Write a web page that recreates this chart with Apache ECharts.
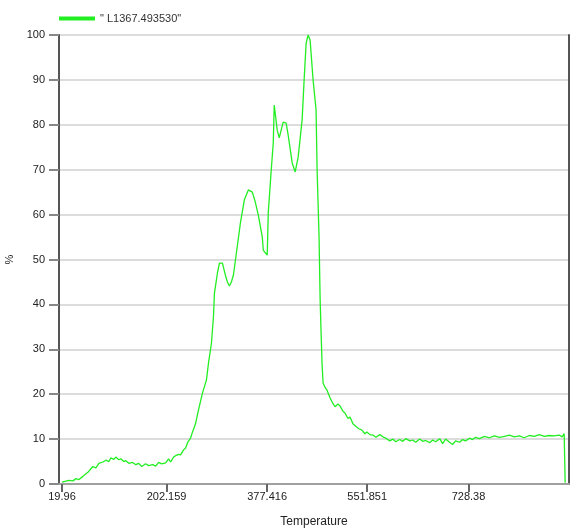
<!DOCTYPE html>
<html>
<head>
<meta charset="utf-8">
<script src="https://cdn.jsdelivr.net/npm/echarts@6/dist/echarts.min.js"></script>
<style>
  html, body { margin: 0; padding: 0; background: #fff; }
  #grafica { width: 575px; height: 529px; }
</style>
</head>
<body>
<div id="grafica"></div>
<script>
const serieNombre = '" L1367.493530"';
const tickLabels = [19.96, 202.159, 377.416, 551.851, 728.38];

// temperatura
const temps = [
  20.0, 25.2, 32.1, 39.1, 44.3, 49.5, 56.4, 61.6, 65.1, 70.3, 73.8, 79.0, 84.2, 91.2, 96.4,
  101.6, 105.0, 110.3, 113.7, 118.9, 122.4, 127.6, 131.1, 136.3, 143.2, 148.5, 153.7, 158.9,
  165.8, 171.0, 178.0, 183.2, 188.4, 193.6, 200.5, 205.7, 209.2, 214.4, 217.9, 223.1, 226.6,
  231.8, 235.3, 238.7, 243.9, 247.4, 252.6, 257.8, 264.8, 271.7, 275.2, 280.4, 283.9, 285.6,
  290.8, 294.3, 299.5, 304.7, 308.2, 311.7, 315.1, 318.6, 323.8, 330.8, 337.7, 344.7, 351.6,
  356.8, 362.0, 369.0, 370.7, 374.2, 377.6, 379.4, 384.6, 388.1, 389.8, 395.0, 398.5, 405.4,
  410.6, 414.1, 421.1, 426.3, 431.5, 438.4, 441.9, 445.4, 448.8, 452.3, 457.5, 462.7, 464.5,
  467.9, 469.7, 471.4, 473.1, 474.9, 478.4, 481.8, 487.0, 490.5, 495.7, 500.9, 504.4, 509.6,
  513.1, 518.3, 521.8, 527.0, 532.2, 537.4, 542.6, 547.8, 551.3, 556.5, 561.7, 566.9, 573.9,
  579.0, 584.3, 591.2, 596.4, 601.6, 608.6, 613.8, 619.0, 626.0, 631.2, 636.4, 643.3, 648.5,
  653.7, 660.7, 665.9, 671.1, 678.1, 683.2, 688.5, 695.4, 700.6, 705.8, 712.8, 718.0, 723.2,
  730.1, 735.4, 740.6, 747.5, 756.2, 764.9, 773.5, 782.2, 790.9, 799.6, 808.3, 817.0, 825.6,
  834.3, 843.0, 851.7, 860.4, 869.0, 877.7, 886.4, 891.6, 895.1, 896.8
];

// porcentaje
const porcentajes = [
  0.4, 0.6, 0.8, 0.7, 1.2, 1.0, 1.7, 2.3, 2.6, 3.4, 3.9, 3.6, 4.6, 4.9, 5.3,
  5.0, 5.8, 5.5, 6.0, 5.4, 5.6, 5.0, 5.2, 4.6, 4.8, 4.3, 4.6, 3.9,
  4.5, 4.1, 4.3, 4.0, 4.8, 4.5, 4.7, 5.6, 4.9, 6.0, 6.3, 6.6, 6.5,
  7.6, 8.0, 9.2, 10.2, 11.6, 13.4, 16.5, 20.3, 23.2, 26.9, 31.4, 37.3, 42.5,
  47.0, 49.2, 49.2, 46.5, 45.0, 44.1, 45.0, 46.5, 51.4, 58.1, 63.3, 65.5, 65.0,
  62.8, 59.9, 55.0, 52.1, 51.5, 51.0, 60.4, 70.0, 75.9, 84.4, 78.8, 77.1, 80.6,
  80.4, 77.7, 71.5, 69.5, 72.8, 81.1, 90.0, 98.2, 100, 98.9, 90.0, 83.3, 70.0,
  55.0, 41.6, 34.0, 26.9, 22.5, 21.5, 20.9, 19.2, 18.3, 17.2, 17.8, 17.4, 16.2,
  15.8, 14.6, 14.9, 13.4, 12.8, 12.3, 12.0, 11.2, 11.6, 11.0, 10.9, 10.4, 11.0,
  10.5, 10.2, 9.6, 10.0, 9.4, 9.9, 9.5, 10.1, 9.6, 9.8, 9.3, 10.0, 9.5,
  9.7, 9.2, 9.8, 9.4, 10.1, 9.0, 10.0, 9.3, 8.8, 9.6, 9.3, 9.9, 9.6,
  10.2, 9.9, 10.4, 10.1, 10.6, 10.3, 10.7, 10.4, 10.6, 10.9, 10.5, 10.7, 10.3,
  10.8, 10.6, 11.0, 10.6, 10.8, 10.7, 10.9, 10.5, 11.2, 0.3
];

const datos = temps.map(function (t, i) { return [t, porcentajes[i]]; });

var dom = document.getElementById('grafica');
var myChart = echarts.init(dom, null, { renderer: 'canvas' });

var fuente = 'Liberation Sans, Arial, sans-serif';

var option = {
  animation: false,
  backgroundColor: '#ffffff',
  legend: {
    left: 54,
    top: 8,
    icon: 'rect',
    itemWidth: 36,
    itemHeight: 4,
    itemGap: 6,
    data: [serieNombre],
    textStyle: { fontFamily: fuente, fontSize: 11, color: '#333' }
  },
  grid: { left: 59, right: 6, top: 35, bottom: 45, containLabel: false, outerBoundsMode: 'none' },
  xAxis: [
    {
      type: 'value',
      min: 14.7,
      max: 903.5,
      name: 'Temperature',
      nameLocation: 'middle',
      nameGap: 32,
      nameTextStyle: { fontFamily: fuente, fontSize: 12, color: '#222' },
      axisLine: { lineStyle: { color: '#555', width: 2 } },
      axisTick: { show: true, length: 8, customValues: tickLabels, lineStyle: { color: '#666', width: 2 } },
      axisLabel: {
        customValues: tickLabels,
        fontFamily: fuente, fontSize: 11, color: '#222', margin: 7,
        formatter: function (v) { return String(v); }
      },
      splitLine: { show: false }
    },
    {
      type: 'value',
      position: 'top',
      min: 14.7,
      max: 903.5,
      axisLine: { show: true, lineStyle: { color: '#a0a0a0', width: 2 } },
      axisTick: { show: false },
      axisLabel: { show: false },
      splitLine: { show: false }
    }
  ],
  yAxis: [
    {
      type: 'value',
      min: 0,
      max: 100,
      interval: 10,
      name: '%',
      nameLocation: 'middle',
      nameGap: 42,
      nameRotate: 90,
      nameTextStyle: { fontFamily: fuente, fontSize: 11, color: '#222' },
      axisLine: { show: true, lineStyle: { color: '#555', width: 2 } },
      axisTick: { show: true, length: 10, lineStyle: { color: '#888', width: 2 } },
      axisLabel: { fontFamily: fuente, fontSize: 11, color: '#222', margin: 14 },
      splitLine: { show: true, lineStyle: { color: '#dcdcdc', width: 2 } }
    },
    {
      type: 'value',
      position: 'right',
      min: 0,
      max: 100,
      interval: 10,
      axisLine: { show: true, lineStyle: { color: '#555', width: 2 } },
      axisTick: { show: false },
      axisLabel: { show: false },
      splitLine: { show: false }
    }
  ],
  series: [
    {
      name: serieNombre,
      type: 'line',
      xAxisIndex: 0,
      yAxisIndex: 0,
      showSymbol: false,
      smooth: false,
      lineStyle: { color: '#22ee22', width: 1.3 },
      itemStyle: { color: '#22ee22' },
      data: datos
    }
  ]
};

myChart.setOption(option);
window.addEventListener('resize', myChart.resize);
</script>
</body>
</html>
